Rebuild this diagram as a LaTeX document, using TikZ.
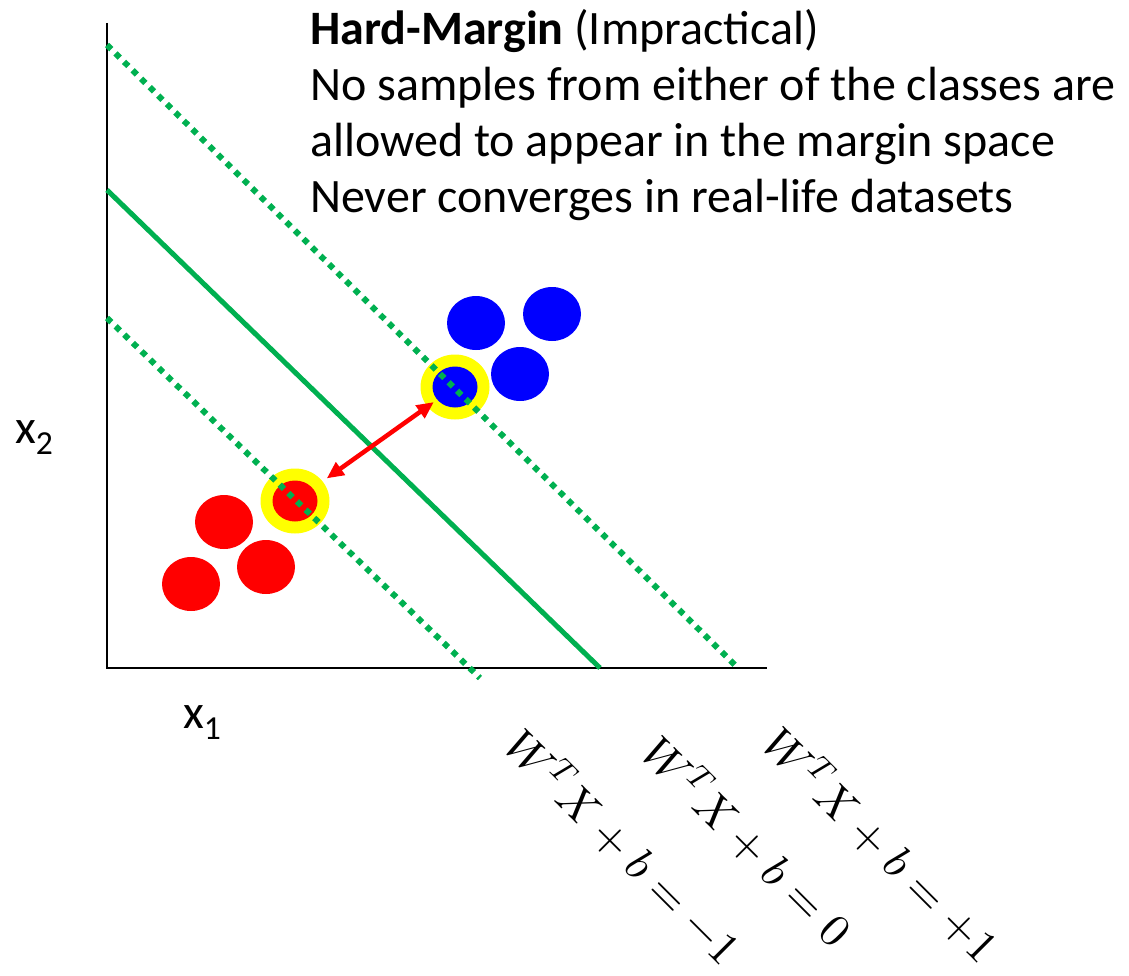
\documentclass[tikz,border=0pt]{standalone}
\usepackage{fontspec}
\usepackage{unicode-math}
\newfontfamily\gill{Carlito}
\usetikzlibrary{arrows.meta,shapes.geometric}
\definecolor{svmgreen}{RGB}{0,176,80}
\definecolor{svmblue}{RGB}{0,0,255}
\definecolor{svmred}{RGB}{255,0,0}
\definecolor{svmyellow}{RGB}{255,255,0}

\begin{document}
\begin{tikzpicture}[x=1pt,y=-1pt,
    sample/.style={ellipse, inner sep=0pt, minimum width=58pt, minimum height=54pt},
    ring/.style={ellipse, fill=svmyellow, inner sep=0pt, minimum width=69pt, minimum height=65pt},
    core/.style={ellipse, inner sep=0pt, minimum width=45pt, minimum height=41pt},
    margin/.style={svmgreen, line width=6pt, dash pattern=on 6pt off 6pt},
    hyper/.style={svmgreen, line width=5pt},
    txt/.style={font=\gill\fontsize{48}{57}\selectfont, inner sep=0pt, anchor=base west},
    eq/.style={font=\fontsize{46}{50}\selectfont, rotate=-45, inner sep=0pt}]
    \useasboundingbox (0,0) rectangle (1129,976);

    % axes
    \coordinate (ytop) at (107,23);
    \coordinate (orig) at (107,668);
    \coordinate (xend) at (767,668);
    \draw[line width=2pt] (ytop) -- (orig) -- (xend);

    % samples
    \node[sample, fill=svmblue] (b1) at (476,323) {};
    \node[sample, fill=svmblue] (b2) at (552,314) {};
    \node[sample, fill=svmblue] (b3) at (520,374) {};
    \node[ring] (bsv) at (455,387) {};
    \node[core, fill=svmblue] (bsvin) at (bsv.center) {};
    \node[sample, fill=svmred] (r1) at (224,522) {};
    \node[sample, fill=svmred] (r2) at (266,567) {};
    \node[sample, fill=svmred] (r3) at (191,584) {};
    \node[ring] (rsv) at (295,501) {};
    \node[core, fill=svmred] (rsvin) at (rsv.center) {};

    % hyperplane and margins
    \coordinate (up0) at (107,45);
    \coordinate (up1) at (738,668);
    \coordinate (mid0) at (107,190);
    \coordinate (mid1) at (600,668);
    \coordinate (lo0) at (107,318);
    \coordinate (lo1) at (480,678);
    \draw[hyper] (mid0) -- (mid1);
    \draw[margin] (up0) -- (up1);
    \draw[margin] (lo0) -- (lo1);

    \draw[svmred, line width=4.5pt, {Triangle[length=17pt,width=15pt]}-{Triangle[length=17pt,width=15pt]},
      shorten <=5pt, shorten >=-8pt] (rsv) -- (bsv);

    % labels
    \node[txt] (xtwo) at (15,443) {x\textsubscript{2}};
    \node[txt] (xone) at (183,728) {x\textsubscript{1}};
    \node[eq] (lneg) at (624,846) {$W^TX+b=-1$};
    \node[eq] (lzero) at (748,840) {$W^TX+b=0$};
    \node[eq] (lpos) at (882,844) {$W^TX+b=+1$};

    % text
    \node[txt] (title) at (310,45) {\textbf{Hard-Margin} (Impractical)};
    \node[txt] (line1) at (310,101) {No samples from either of the classes are};
    \node[txt] (line2) at (310,157) {allowed to appear in the margin space};
    \node[txt] (line3) at (310,213) {Never converges in real-life datasets};
\end{tikzpicture}
\end{document}
